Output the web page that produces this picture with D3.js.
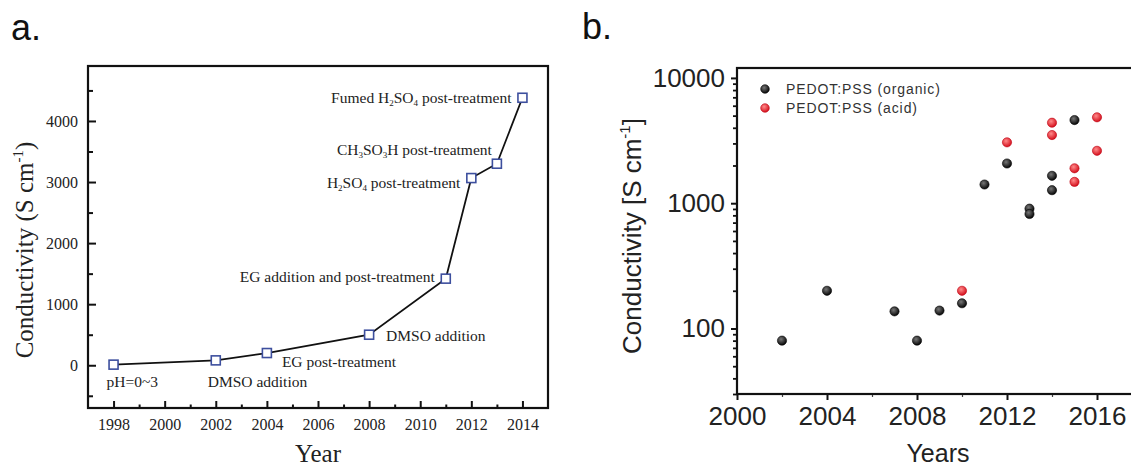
<!DOCTYPE html>
<html>
<head>
<meta charset="utf-8">
<script src="https://cdn.jsdelivr.net/npm/d3@7"></script>
<style>
  html, body { margin: 0; padding: 0; background: #fff; }
  svg { display: block; }
  .serif { font-family: "Liberation Serif", "Times New Roman", serif; }
  .sans { font-family: "Liberation Sans", Arial, sans-serif; }
</style>
</head>
<body>
<svg id="chart" width="1131" height="470"></svg>
<script>
// ---------- Panel a data ----------
const yearsA = [1998, 2002, 2004, 2008, 2011, 2012, 2013, 2014];
const condA = [10, 80, 200, 500, 1418, 3065, 3300, 4380];
// label parts: [text, "sub" | ""]
const notesA = [
  [["pH=0~3", ""]],
  [["DMSO addition", ""]],
  [["EG post-treatment", ""]],
  [["DMSO addition", ""]],
  [["EG addition and post-treatment", ""]],
  [["H", ""], ["2", "sub"], ["SO", ""], ["4", "sub"], [" post-treatment", ""]],
  [["CH", ""], ["3", "sub"], ["SO", ""], ["3", "sub"], ["H post-treatment", ""]],
  [["Fumed H", ""], ["2", "sub"], ["SO", ""], ["4", "sub"], [" post-treatment", ""]]
];
const xTicksA = [1998, 2000, 2002, 2004, 2006, 2008, 2010, 2012, 2014];
const yTicksA = [0, 1000, 2000, 3000, 4000];

// ---------- Panel b data ----------
const organicYears = [2002, 2004, 2007, 2008, 2009, 2010, 2011, 2012, 2013, 2013, 2014, 2014, 2015];
const organicCond  = [80, 200, 137, 80, 139, 159, 1410, 2075, 905, 820, 1655, 1270, 4610];
const acidYears = [2010, 2012, 2014, 2014, 2015, 2015, 2016, 2016];
const acidCond  = [200, 3060, 4390, 3500, 1900, 1480, 4850, 2620];
const seriesNamesB = ["PEDOT:PSS (organic)", "PEDOT:PSS (acid)"];
const xTicksB = [2000, 2004, 2008, 2012, 2016];
const yTicksB = [100, 1000, 10000];

const svg = d3.select("#chart");

// ================= Panel a =================
(function panelA() {
  const left = 88, right = 548, top = 66, bottom = 408;
  const x = d3.scaleLinear().domain([1997, 2015]).range([left, right]);
  const y = d3.scaleLinear().domain([-700, 4900]).range([bottom, top]);
  const g = svg.append("g").attr("class", "serif");

  svg.append("text").attr("class", "sans").attr("x", 11).attr("y", 40)
    .attr("font-size", 36).attr("fill", "#111").text("a.");

  // minor ticks
  const minorX = d3.range(1999, 2015, 2);
  g.append("g").attr("transform", `translate(0,${bottom})`)
    .call(d3.axisBottom(x).tickValues(minorX).tickSize(-3.5).tickSizeOuter(0).tickFormat(""))
    .call(s => s.select(".domain").remove())
    .call(s => s.selectAll("line").attr("stroke", "#111").attr("stroke-width", 2));
  const minorY = [-500, 500, 1500, 2500, 3500, 4500];
  g.append("g").attr("transform", `translate(${left},0)`)
    .call(d3.axisLeft(y).tickValues(minorY).tickSize(-5).tickSizeOuter(0).tickFormat(""))
    .call(s => s.select(".domain").remove())
    .call(s => s.selectAll("line").attr("stroke", "#111").attr("stroke-width", 2));

  // major axes
  g.append("g").attr("transform", `translate(0,${bottom})`)
    .call(d3.axisBottom(x).tickValues(xTicksA).tickSize(-7).tickSizeOuter(0).tickPadding(9).tickFormat(d3.format("d")))
    .call(s => s.select(".domain").remove())
    .call(s => s.selectAll("line").attr("stroke", "#111").attr("stroke-width", 2))
    .call(s => s.selectAll("text").attr("font-family", "Liberation Serif, serif")
      .attr("font-size", 16).attr("fill", "#222").attr("dy", "0.8em"));
  g.append("g").attr("transform", `translate(${left},0)`)
    .call(d3.axisLeft(y).tickValues(yTicksA).tickSize(-8).tickSizeOuter(0).tickPadding(10).tickFormat(d3.format("d")))
    .call(s => s.select(".domain").remove())
    .call(s => s.selectAll("line").attr("stroke", "#111").attr("stroke-width", 2))
    .call(s => s.selectAll("text").attr("font-family", "Liberation Serif, serif")
      .attr("font-size", 16).attr("fill", "#222"));

  // frame
  g.append("rect").attr("x", left).attr("y", top).attr("width", right - left).attr("height", bottom - top)
    .attr("fill", "none").attr("stroke", "#111").attr("stroke-width", 2.2);

  const pts = yearsA.map((yr, i) => ({ yr, v: condA[i], note: notesA[i] }));

  // line
  g.append("path").datum(pts)
    .attr("d", d3.line().x(d => x(d.yr)).y(d => y(d.v)))
    .attr("fill", "none").attr("stroke", "#111").attr("stroke-width", 1.8);

  // markers
  const s = 9;
  g.selectAll("rect.pt").data(pts).join("rect").attr("class", "pt")
    .attr("x", d => x(d.yr) - s / 2).attr("y", d => y(d.v) - s / 2)
    .attr("width", s).attr("height", s)
    .attr("fill", "#fff").attr("stroke", "#3d4f9e").attr("stroke-width", 1.6);

  // annotations: offsets relative to each point
  const offs = [
    { dx: -7, dy: 22, a: "start" },
    { dx: -8, dy: 27, a: "start" },
    { dx: 15, dy: 14, a: "start" },
    { dx: 17, dy: 6, a: "start" },
    { dx: -11, dy: 3, a: "end" },
    { dx: -11, dy: 10, a: "end" },
    { dx: -5, dy: -9, a: "end" },
    { dx: -11, dy: 5, a: "end" }
  ];
  pts.forEach((d, i) => {
    const t = g.append("text")
      .attr("x", x(d.yr) + offs[i].dx).attr("y", y(d.v) + offs[i].dy)
      .attr("text-anchor", offs[i].a).attr("font-size", 15.5).attr("fill", "#222");
    let afterSub = false;
    d.note.forEach(([txt, kind]) => {
      const ts = t.append("tspan").text(txt);
      if (kind === "sub") { ts.attr("font-size", 9).attr("dy", afterSub ? 0 : 3); afterSub = true; }
      else { if (afterSub) ts.attr("dy", -3); afterSub = false; }
    });
  });

  // axis titles
  g.append("text").attr("x", (left + right) / 2).attr("y", 462).attr("text-anchor", "middle")
    .attr("font-size", 25).attr("fill", "#222").text("Year");
  const yt = g.append("text").attr("transform", "translate(33,250) rotate(-90)")
    .attr("text-anchor", "middle").attr("font-size", 25).attr("fill", "#222");
  yt.append("tspan").text("Conductivity (S cm");
  yt.append("tspan").attr("font-size", 15).attr("dy", -10).text("-1");
  yt.append("tspan").attr("dy", 10).text(")");
})();

// ================= Panel b =================
(function panelB() {
  const left = 737, right = 1142, top = 68, bottom = 394;
  const x = d3.scaleLinear().domain([2000, 2018]).range([left, right]);
  const y = d3.scaleLog().domain([30, 12000]).range([bottom, top]);
  const g = svg.append("g").attr("class", "sans");

  svg.append("text").attr("class", "sans").attr("x", 582).attr("y", 39)
    .attr("font-size", 36).attr("fill", "#111").text("b.");

  const defs = svg.append("defs");
  const grad = (id, c0, c1) => {
    const rg = defs.append("radialGradient").attr("id", id).attr("cx", "40%").attr("cy", "35%").attr("r", "65%");
    rg.append("stop").attr("offset", "0%").attr("stop-color", c0);
    rg.append("stop").attr("offset", "100%").attr("stop-color", c1);
  };
  grad("gBlack", "#777", "#050505");
  grad("gRed", "#ff8a8a", "#d40f1c");

  // minor ticks
  const minorY = [];
  [10, 100, 1000].forEach(dec => { for (let k = 2; k <= 9; k++) { const v = dec * k; if (v >= 30 && v < 10000) minorY.push(v); } });
  g.append("g").attr("transform", `translate(${left},0)`)
    .call(d3.axisLeft(y).tickValues(minorY).tickSize(4).tickSizeOuter(0).tickFormat(""))
    .call(s => s.select(".domain").remove())
    .call(s => s.selectAll("line").attr("stroke", "#111").attr("stroke-width", 1.8));
  g.append("g").attr("transform", `translate(0,${bottom})`)
    .call(d3.axisBottom(x).tickValues([2002, 2006, 2010, 2014]).tickSize(3).tickSizeOuter(0).tickFormat(""))
    .call(s => s.select(".domain").remove())
    .call(s => s.selectAll("line").attr("stroke", "#444").attr("stroke-width", 1.2));

  // major
  g.append("g").attr("transform", `translate(${left},0)`)
    .call(d3.axisLeft(y).tickValues(yTicksB).tickSize(6).tickSizeOuter(0).tickPadding(6).tickFormat(d3.format("d")))
    .call(s => s.select(".domain").remove())
    .call(s => s.selectAll("line").attr("stroke", "#111").attr("stroke-width", 2))
    .call(s => s.selectAll("text").attr("font-family", "Liberation Sans, Arial, sans-serif")
      .attr("font-size", 26).attr("fill", "#222"));
  g.append("g").attr("transform", `translate(0,${bottom})`)
    .call(d3.axisBottom(x).tickValues(xTicksB).tickSize(6).tickSizeOuter(0).tickPadding(7).tickFormat(d3.format("d")))
    .call(s => s.select(".domain").remove())
    .call(s => s.selectAll("line").attr("stroke", "#111").attr("stroke-width", 2))
    .call(s => s.selectAll("text").attr("font-family", "Liberation Sans, Arial, sans-serif")
      .attr("font-size", 26).attr("fill", "#222"));

  // frame
  g.append("rect").attr("x", left).attr("y", top).attr("width", right - left).attr("height", bottom - top)
    .attr("fill", "none").attr("stroke", "#111").attr("stroke-width", 2.2);

  const org = organicYears.map((yr, i) => ({ yr, v: organicCond[i] }));
  const acid = acidYears.map((yr, i) => ({ yr, v: acidCond[i] }));
  const r = 4.6;
  g.selectAll("circle.org").data(org).join("circle").attr("class", "org")
    .attr("cx", d => x(d.yr)).attr("cy", d => y(d.v)).attr("r", r)
    .attr("fill", "url(#gBlack)").attr("stroke", "#000").attr("stroke-width", 0.6);
  g.selectAll("circle.acid").data(acid).join("circle").attr("class", "acid")
    .attr("cx", d => x(d.yr)).attr("cy", d => y(d.v)).attr("r", r)
    .attr("fill", "url(#gRed)").attr("stroke", "#c00010").attr("stroke-width", 0.6);

  // legend
  const lg = g.append("g");
  const fills = ["url(#gBlack)", "url(#gRed)"];
  const strokes = ["#000", "#c00010"];
  seriesNamesB.forEach((name, i) => {
    const yy = 89 + i * 19;
    lg.append("circle").attr("cx", 765).attr("cy", yy).attr("r", 4.3)
      .attr("fill", fills[i]).attr("stroke", strokes[i]).attr("stroke-width", 0.6);
    lg.append("text").attr("x", 786).attr("y", yy + 5).attr("font-size", 14)
      .attr("letter-spacing", 0.9).attr("fill", "#333").text(name);
  });

  // titles
  g.append("text").attr("x", 938).attr("y", 462).attr("text-anchor", "middle")
    .attr("font-size", 25).attr("fill", "#222").text("Years");
  const yt = g.append("text").attr("transform", "translate(641,236) rotate(-90)")
    .attr("text-anchor", "middle").attr("font-size", 26).attr("fill", "#222");
  yt.append("tspan").text("Conductivity [S cm");
  yt.append("tspan").attr("font-size", 15).attr("dy", -11).text("-1");
  yt.append("tspan").attr("dy", 11).text("]");
})();
</script>
</body>
</html>
